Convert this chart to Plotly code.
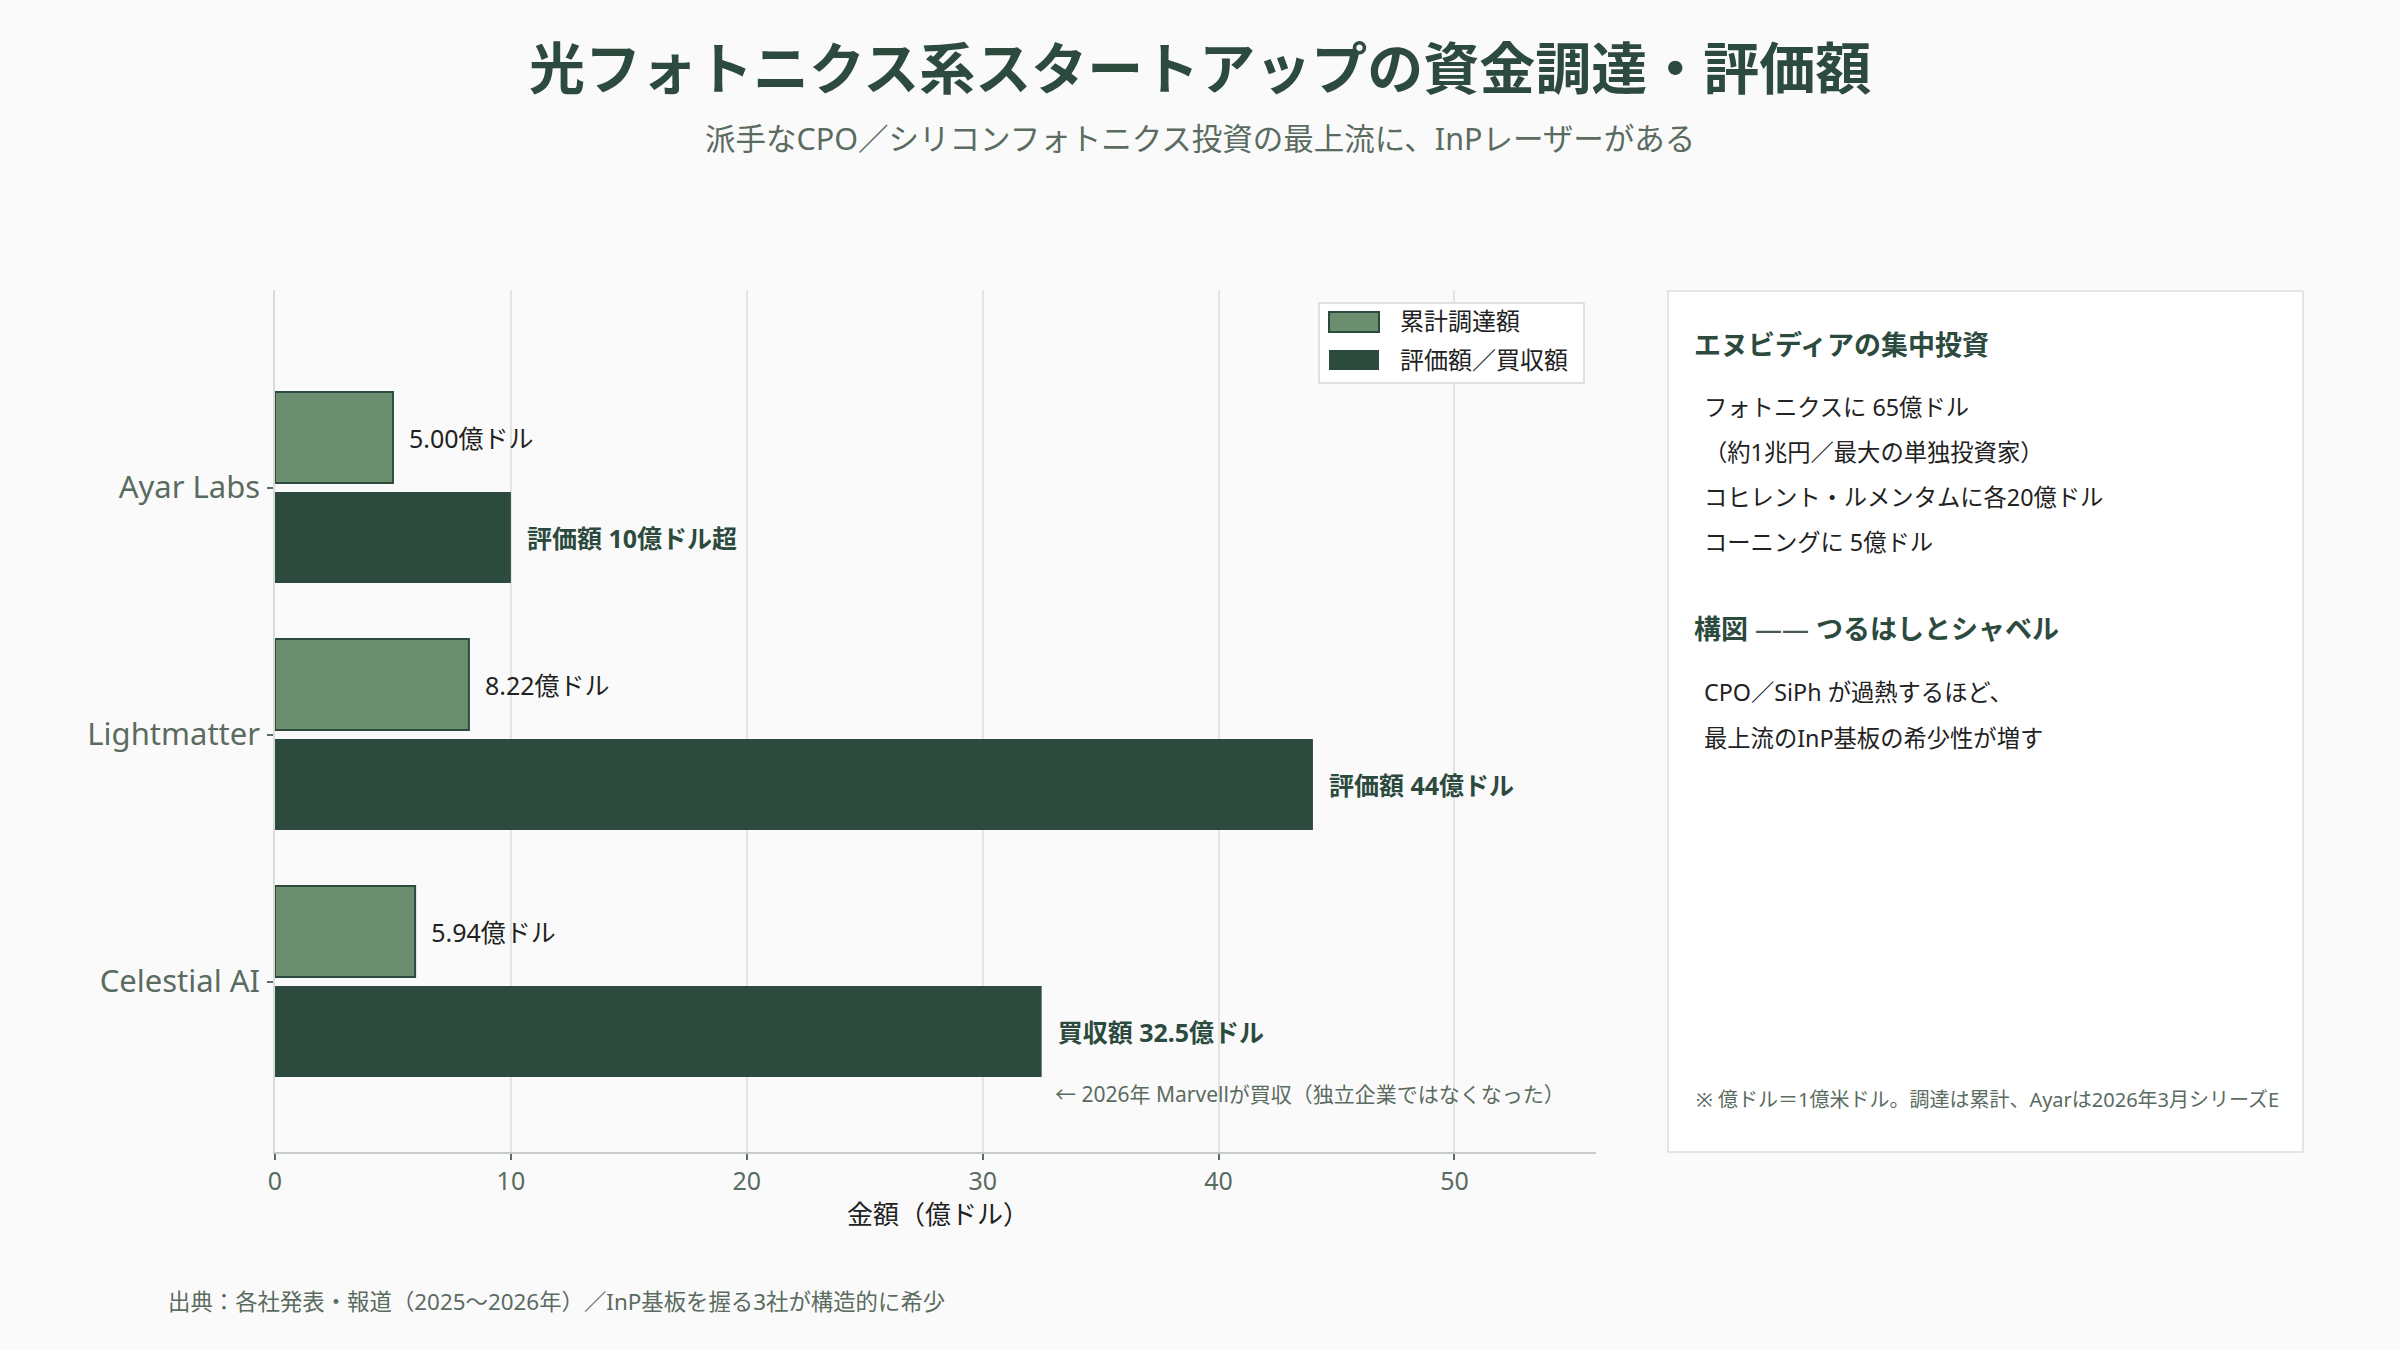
import plotly.graph_objects as go

# ---- data ----
companies = ["Ayar Labs", "Lightmatter", "Celestial AI"]
funding = [5.00, 8.22, 5.94]              # 累計調達額（億ドル）
valuation = [10, 44, 32.5]                 # 評価額／買収額（億ドル）
funding_labels = ["5.00億ドル", "8.22億ドル", "5.94億ドル"]
valuation_labels = ["評価額 10億ドル超", "評価額 44億ドル", "買収額 32.5億ドル"]
series_names = ["累計調達額", "評価額／買収額"]
x_ticks = [0, 10, 20, 30, 40, 50]

W, H = 2400, 1350
FONT = "Noto Sans, Noto Sans CJK JP"
DARK = "#2d4a3e"
LIGHT = "#6b8f6e"
GRAY = "#5a6b60"
TEXT = "#222222"

def px(x):
    return x / W

def py(y):
    return 1 - y / H

pad = "\u00a0\u00a0"

fig = go.Figure()
fig.add_trace(go.Bar(
    name=series_names[0], y=companies, x=funding, orientation="h",
    marker=dict(color=LIGHT, line=dict(color=DARK, width=2)),
    text=[pad + t for t in funding_labels], textposition="outside",
    outsidetextfont=dict(family=FONT, size=25, color=TEXT),
    constraintext="none", cliponaxis=False, hoverinfo="skip", showlegend=False,
))
fig.add_trace(go.Bar(
    name=series_names[1], y=companies, x=valuation, orientation="h",
    marker=dict(color=DARK, line=dict(color=DARK, width=0)),
    text=[pad + "<b>" + t + "</b>" for t in valuation_labels], textposition="outside",
    outsidetextfont=dict(family=FONT, size=25, color=DARK),
    constraintext="none", cliponaxis=False, hoverinfo="skip", showlegend=False,
))

annotations = [
    dict(text="<b>光フォトニクス系スタートアップの資金調達・評価額</b>", x=0.5, y=py(67),
         font=dict(family=FONT, size=56, color=DARK)),
    dict(text="派手なCPO／シリコンフォトニクス投資の最上流に、InPレーザーがある", x=0.5, y=py(138),
         font=dict(family=FONT, size=30.5, color=GRAY)),
    dict(text="金額（億ドル）", x=px(938), y=py(1214),
         font=dict(family=FONT, size=26, color=TEXT)),
    dict(text="出典：各社発表・報道（2025〜2026年）／InP基板を握る3社が構造的に希少",
         x=px(166), y=py(1301), xanchor="left",
         font=dict(family=FONT, size=22.4, color=GRAY)),
    # legend (drawn by hand to match the wide swatches)
    dict(text=series_names[0], x=px(1398), y=py(321), xanchor="left",
         font=dict(family=FONT, size=24, color=TEXT)),
    dict(text=series_names[1], x=px(1398), y=py(360), xanchor="left",
         font=dict(family=FONT, size=24, color=TEXT)),
    # side panel
    dict(text="<b>エヌビディアの集中投資</b>", x=px(1692), y=py(344), xanchor="left",
         font=dict(family=FONT, size=27, color=DARK)),
    dict(text="フォトニクスに 65億ドル", x=px(1702), y=py(407), xanchor="left",
         font=dict(family=FONT, size=23.3, color=TEXT)),
    dict(text="（約1兆円／最大の単独投資家）", x=px(1702), y=py(452), xanchor="left",
         font=dict(family=FONT, size=23.3, color=TEXT)),
    dict(text="コヒレント・ルメンタムに各20億ドル", x=px(1702), y=py(497), xanchor="left",
         font=dict(family=FONT, size=23.3, color=TEXT)),
    dict(text="コーニングに 5億ドル", x=px(1702), y=py(542), xanchor="left",
         font=dict(family=FONT, size=23.3, color=TEXT)),
    dict(text="<b>構図</b> <span style='color:#4a5a50'>——</span> <b>つるはしとシャベル</b>",
         x=px(1692), y=py(629), xanchor="left",
         font=dict(family=FONT, size=27, color=DARK)),
    dict(text="CPO／SiPh が過熱するほど、", x=px(1702), y=py(692), xanchor="left",
         font=dict(family=FONT, size=23.3, color=TEXT)),
    dict(text="最上流のInP基板の希少性が増す", x=px(1702), y=py(738), xanchor="left",
         font=dict(family=FONT, size=23.3, color=TEXT)),
    dict(text="※ 億ドル＝1億米ドル。調達は累計、Ayarは2026年3月シリーズE", x=px(1694), y=py(1099),
         xanchor="left", font=dict(family=FONT, size=20, color=GRAY)),
]
for a in annotations:
    a.setdefault("xref", "paper")
    a.setdefault("yref", "paper")
    a.setdefault("showarrow", False)
    a.setdefault("xanchor", "center")
    a.setdefault("yanchor", "middle")

# note under the Celestial AI acquisition bar (anchored to data)
annotations.append(dict(
    text="← 2026年 Marvellが買収（独立企業ではなくなった）",
    x=valuation[2], y=companies[2], xref="x", yref="y",
    xanchor="left", yanchor="middle", xshift=11, yshift=-112, showarrow=False,
    font=dict(family=FONT, size=21, color=GRAY),
))

shapes = [
    dict(type="rect", xref="paper", yref="paper",
         x0=px(1668), x1=px(2303), y0=py(1152), y1=py(291),
         fillcolor="#ffffff", line=dict(color="#dadfdb", width=1.5), layer="below"),
    # legend box and swatches
    dict(type="rect", xref="paper", yref="paper",
         x0=px(1319), x1=px(1584), y0=py(383), y1=py(303),
         fillcolor="#ffffff", line=dict(color="#d5dad6", width=1.5), layer="above"),
    dict(type="rect", xref="paper", yref="paper",
         x0=px(1329), x1=px(1379), y0=py(332), y1=py(312),
         fillcolor=LIGHT, line=dict(color=DARK, width=2), layer="above"),
    dict(type="rect", xref="paper", yref="paper",
         x0=px(1329), x1=px(1379), y0=py(370), y1=py(350),
         fillcolor=DARK, line=dict(color=DARK, width=0), layer="above"),
]

fig.update_layout(
    width=W, height=H, autosize=False,
    margin=dict(l=0, r=0, t=0, b=0),
    paper_bgcolor="#fafafa", plot_bgcolor="#fafafa",
    font=dict(family=FONT, color=TEXT),
    barmode="group", bargap=0.19, bargroupgap=0.09,
    showlegend=False,
    xaxis=dict(domain=[px(275), px(1596)], range=[0, 56], tickvals=x_ticks,
               automargin=False,
               showgrid=True, gridcolor="#e2e5e2", gridwidth=1.5, zeroline=False,
               showline=True, linecolor="#c5ccc6", linewidth=2,
               ticks="outside", ticklen=6, tickcolor=GRAY, tickwidth=2,
               tickfont=dict(family=FONT, size=25, color=GRAY)),
    yaxis=dict(domain=[1 - 1152 / H, 1 - 290 / H], range=[2.69, -0.80],
               automargin=False,
               showgrid=False, zeroline=False,
               showline=True, linecolor="#d8ddd9", linewidth=1.5,
               ticks="outside", ticklen=6, tickcolor=GRAY, tickwidth=1.5,
               ticklabelstandoff=1,
               tickfont=dict(family=FONT, size=31, color=GRAY)),
    annotations=annotations,
    shapes=shapes,
)

fig.write_html("out.html")
